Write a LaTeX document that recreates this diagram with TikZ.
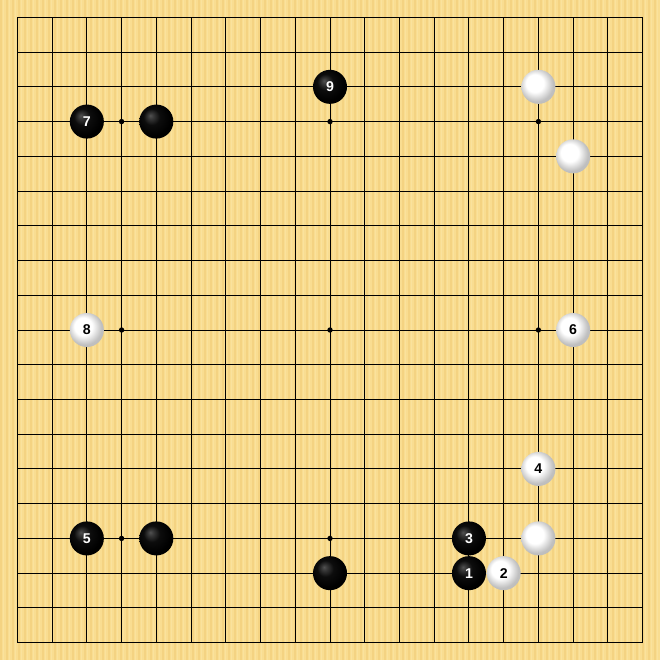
\documentclass[tikz,border=0pt]{standalone}
\usepackage{fontspec}
\setsansfont{Liberation Sans}
\definecolor{boardbg}{RGB}{249,221,145}
\definecolor{boardstripe}{RGB}{240,204,118}
\definecolor{boardlight}{RGB}{252,230,165}
\pgfdeclareradialshading{bstone}{\pgfqpoint{-9bp}{9bp}}{color(0bp)=(black!68); color(4bp)=(black!78); color(12bp)=(black!95); color(25bp)=(black); color(50bp)=(black)}
\pgfdeclareradialshading{wstone}{\pgfqpoint{-7bp}{7bp}}{color(0bp)=(white); color(13bp)=(white); color(25bp)=(black!25); color(50bp)=(black!30)}
\tikzset{
  gridline/.style={line width=0.4pt, black},
  starpt/.style={circle, fill=black, inner sep=0pt, minimum size=2.2pt},
  bst/.style={circle, inner sep=0pt, minimum size=0.49cm, shading=bstone, text=white, font=\sffamily\bfseries\fontsize{5.8}{6}\selectfont},
  wst/.style={circle, inner sep=0pt, minimum size=0.49cm, shading=wstone, text=black, font=\sffamily\bfseries\fontsize{5.8}{6}\selectfont},
}
\begin{document}
\begin{tikzpicture}[x=0.5cm,y=-0.5cm]
\useasboundingbox (-0.5,-0.5) rectangle (18.5,18.5);
\fill[boardbg] (-0.5,-0.5) rectangle (18.5,18.5);
\foreach \i in {0,...,109} {
  \fill[boardstripe, opacity=0.55] ({-0.5+\i*0.1727},-0.5) rectangle ({-0.5+\i*0.1727+0.05},18.5);
  \fill[boardlight, opacity=0.6] ({-0.5+\i*0.1727+0.09},-0.5) rectangle ({-0.5+\i*0.1727+0.12},18.5);
}
\foreach \k in {0,...,18} {
  \draw[gridline] (\k,0) -- (\k,18);
  \draw[gridline] (0,\k) -- (18,\k);
}
\draw[gridline, line width=0.6pt] (0,0) rectangle (18,18);
\foreach \a/\b [count=\n] in {3/3,9/3,15/3,3/9,9/9,15/9,3/15,9/15,15/15} {
  \node[starpt] (star\n) at (\a,\b) {};
}
% black stones
\node[bst] (s9) at (9,2) {9};
\node[bst] (s7) at (2,3) {7};
\node[bst] (bA) at (4,3) {};
\node[bst] (s5) at (2,15) {5};
\node[bst] (bB) at (4,15) {};
\node[bst] (s3) at (13,15) {3};
\node[bst] (bC) at (9,16) {};
\node[bst] (s1) at (13,16) {1};
% white stones
\node[wst] (wA) at (15,2) {};
\node[wst] (wB) at (16,4) {};
\node[wst] (s8) at (2,9) {8};
\node[wst] (s6) at (16,9) {6};
\node[wst] (s4) at (15,13) {4};
\node[wst] (wC) at (15,15) {};
\node[wst] (s2) at (14,16) {2};
\end{tikzpicture}
\end{document}
